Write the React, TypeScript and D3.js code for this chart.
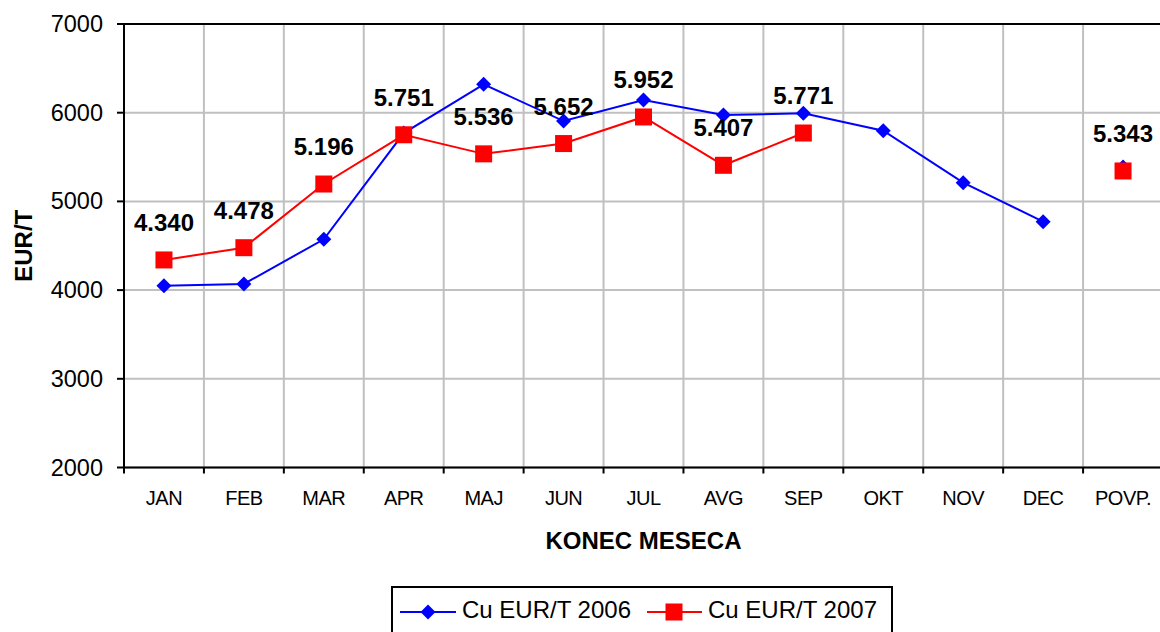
import React from "react";
import * as d3 from "d3";

const categories = ["JAN", "FEB", "MAR", "APR", "MAJ", "JUN", "JUL", "AVG", "SEP", "OKT", "NOV", "DEC", "POVP."];
const cu2006: (number | null)[] = [4050, 4069, 4573, 5770, 6320, 5906, 6143, 5974, 5993, 5797, 5211, 4771, 5388];
const cu2007: (number | null)[] = [4340, 4478, 5196, 5751, 5536, 5652, 5952, 5407, 5771, null, null, null, 5343];
const yTicks = [2000, 3000, 4000, 5000, 6000, 7000];
const seriesNames = ["Cu EUR/T 2006", "Cu EUR/T 2007"];

const W = 1160;
const H = 632;
const left = 124;
const right = 1163;
const top = 24;
const bottom = 467.5;
const FONT = "'Liberation Sans', Arial, sans-serif";

export default function App() {
  const x = d3.scaleBand<string>().domain(categories).range([left, right]).padding(0);
  const y = d3.scaleLinear().domain([2000, 7000]).range([bottom, top]);
  const cx = (c: string) => (x(c) as number) + x.bandwidth() / 2;

  const fmt = (v: number) => {
    const s = Math.round(v).toString();
    return s.length > 3 ? s.slice(0, s.length - 3) + "." + s.slice(-3) : s;
  };

  const line = d3
    .line<[string, number | null]>()
    .defined((d) => d[1] !== null)
    .x((d) => cx(d[0]))
    .y((d) => y(d[1] as number));

  const d2006 = categories.map((c, i) => [c, cu2006[i]] as [string, number | null]);
  const d2007 = categories.map((c, i) => [c, cu2007[i]] as [string, number | null]);
  // the average (POVP.) point is not connected to the monthly lines
  const d2006line = d2006.slice(0, 12);
  const d2007line = d2007.slice(0, 12);

  const diamond = (px: number, py: number, r: number) =>
    `M${px},${py - r}L${px + r},${py}L${px},${py + r}L${px - r},${py}Z`;

  const boundaries = categories.map((c) => x(c) as number).concat([right]);

  return (
    <svg
      width={W}
      height={H}
      style={{ position: "absolute", left: 0, top: 0, background: "#fff" }}
      fontFamily={FONT}
    >
      <rect x={0} y={0} width={W} height={H} fill="#fff" />
      {yTicks.map((t) => (
        <line key={"hg" + t} x1={left} x2={right} y1={y(t)} y2={y(t)} stroke="#c0c0c0" strokeWidth={2} />
      ))}
      {boundaries.slice(1).map((b, i) => (
        <line key={"vg" + i} x1={b} x2={b} y1={top} y2={bottom} stroke="#c0c0c0" strokeWidth={2} />
      ))}
      <line x1={left} x2={right} y1={top} y2={top} stroke="#000" strokeWidth={2} />
      <line x1={left} x2={left} y1={top - 1} y2={bottom + 1} stroke="#000" strokeWidth={2} />
      <line x1={left - 1} x2={right} y1={bottom} y2={bottom} stroke="#000" strokeWidth={2} />
      {yTicks.map((t) => (
        <g key={"yt" + t}>
          <line x1={left - 7} x2={left} y1={y(t)} y2={y(t)} stroke="#000" strokeWidth={2} />
          <text x={103} y={y(t) + 8} textAnchor="end" fontSize={23.5} fill="#000">
            {t}
          </text>
        </g>
      ))}
      {boundaries.map((b, i) => (
        <line key={"xt" + i} x1={b} x2={b} y1={bottom} y2={bottom + 6} stroke="#000" strokeWidth={2} />
      ))}
      {categories.map((c) => (
        <text key={"xl" + c} x={cx(c)} y={505} textAnchor="middle" fontSize={20} fill="#000" letterSpacing={-0.5}>
          {c}
        </text>
      ))}
      <text
        transform={`translate(32, ${(top + bottom) / 2}) rotate(-90)`}
        textAnchor="middle"
        fontSize={24}
        fontWeight="bold"
        fill="#000"
      >
        EUR/T
      </text>
      <text x={(left + right) / 2} y={549} textAnchor="middle" fontSize={24} fontWeight="bold" fill="#000">
        KONEC MESECA
      </text>

      <path d={line(d2006line) || ""} fill="none" stroke="#0000ff" strokeWidth={2} />
      {d2006.map(([c, v]) =>
        v === null ? null : <path key={"m06" + c} d={diamond(cx(c), y(v), 7.5)} fill="#0000ff" />
      )}
      <path d={line(d2007line) || ""} fill="none" stroke="#ff0000" strokeWidth={2} />
      {d2007.map(([c, v]) =>
        v === null ? null : (
          <rect key={"m07" + c} x={cx(c) - 8.5} y={y(v) - 8.5} width={17} height={17} fill="#ff0000" />
        )
      )}
      {d2007.map(([c, v]) =>
        v === null ? null : (
          <text key={"l07" + c} x={cx(c)} y={y(v) - 29} textAnchor="middle" fontSize={24} fontWeight="bold" fill="#000">
            {fmt(v)}
          </text>
        )
      )}

      <rect x={392} y={587} width={500} height={52} fill="#fff" stroke="#000" strokeWidth={2} />
      <line x1={400} x2={456} y1={612} y2={612} stroke="#0000ff" strokeWidth={2} />
      <path d={diamond(428, 612, 7.5)} fill="#0000ff" />
      <text x={462} y={618} fontSize={24} fill="#000">
        {seriesNames[0]}
      </text>
      <line x1={647} x2={702} y1={612} y2={612} stroke="#ff0000" strokeWidth={2} />
      <rect x={674 - 8.5} y={612 - 8.5} width={17} height={17} fill="#ff0000" />
      <text x={708} y={618} fontSize={24} fill="#000">
        {seriesNames[1]}
      </text>
    </svg>
  );
}
